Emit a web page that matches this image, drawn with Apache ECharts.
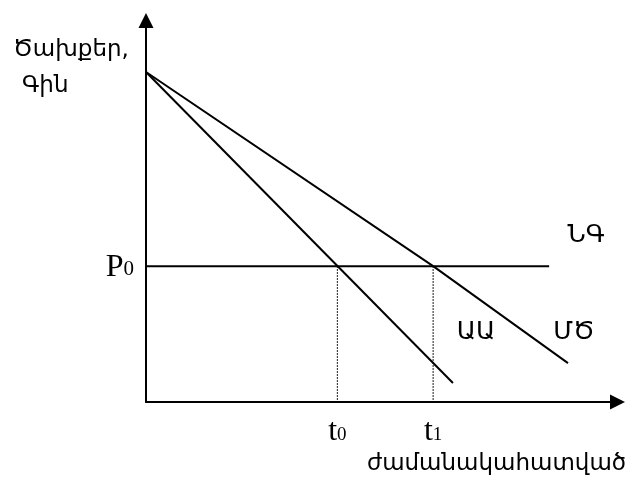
<!DOCTYPE html>
<html lang="hy">
<head>
<meta charset="UTF-8">
<title>Ծախքեր, Գին</title>
<script src="https://cdn.jsdelivr.net/npm/echarts@6/dist/echarts.min.js"></script>
<style>
html,body{margin:0;padding:0;background:#fff;}
#main{width:633px;height:477px;}
</style>
</head>
<body>
<div id="main"></div>
<script>
// values (axis units 0..100)
var t0 = 40.6;
var t1 = 60.9;
var p0 = 35.6;
var lineAA = [[0, 86.5], [65.1, 5.0]];
var lineMC = [[0, 86.5], [60.9, 35.6], [89.5, 10.2]];
var lineNG = [[0, 35.6], [85.5, 35.6]];
var drop0 = [[40.6, 35.6], [40.6, 0]];
var drop1 = [[60.9, 35.6], [60.9, 0]];
var xTickNames = ['0', '1'];
var yTickNames = ['0'];

var armFont = '"DejaVu Sans", sans-serif';
var serif = '"Liberation Serif", "Times New Roman", serif';
var richX = {
	m: {fontFamily: serif, fontSize: 32, color: '#000', verticalAlign: 'bottom', lineHeight: 34},
	s: {fontFamily: serif, fontSize: 19, color: '#000', verticalAlign: 'bottom', lineHeight: 34, padding: [0, 0, 3, 0]}
};
var richY = {
	m: {fontFamily: serif, fontSize: 32, color: '#000', verticalAlign: 'bottom', lineHeight: 34},
	s: {fontFamily: serif, fontSize: 21, color: '#000', verticalAlign: 'bottom', lineHeight: 34, padding: [0, 0, 3, 0]}
};

var chart = echarts.init(document.getElementById('main'));

function txt(s, x, y, align, size) {
	return {
		type: 'text', silent: true,
		style: {
			text: s, x: x, y: y, fill: '#000',
			font: size + 'px ' + armFont,
			textAlign: align, textVerticalAlign: 'middle',
			align: align, verticalAlign: 'middle'
		}
	};
}

function plain(data, dotted) {
	return {
		type: 'line', data: data, symbol: 'none', silent: true,
		lineStyle: {color: '#000', width: dotted ? 1.2 : 2, type: dotted ? [1.5, 1.5] : 'solid'}
	};
}

var option = {
	animation: false,
	grid: {left: 146, top: 20.5, right: 15.5, bottom: 75},
	xAxis: {
		type: 'value', min: 0, max: 100,
		splitLine: {show: false},
		axisTick: {show: false},
		axisLine: {show: true, onZero: false, symbol: ['none', 'triangle'], symbolSize: [15, 15],
			lineStyle: {color: '#000', width: 2}},
		axisLabel: {
			customValues: [t0, t1], margin: 12, rich: richX,
			formatter: function (v) { return '{m|t}{s|' + (v === t0 ? xTickNames[0] : xTickNames[1]) + '}'; }
		}
	},
	yAxis: {
		type: 'value', min: 0, max: 100,
		splitLine: {show: false},
		axisTick: {show: false},
		axisLine: {show: true, onZero: false, symbol: ['none', 'triangle'], symbolSize: [15, 15],
			lineStyle: {color: '#000', width: 2}},
		axisLabel: {
			customValues: [p0], margin: 12, rich: richY,
			formatter: function () { return '{m|P}{s|' + yTickNames[0] + '}'; }
		}
	},
	graphic: [
		txt('Ծախքեր,', 13, 50, 'left', 23),
		txt('Գին', 22, 86, 'left', 23),
		txt('ՆԳ', 586, 235, 'center', 25),
		txt('ԱԱ', 476, 332, 'center', 25),
		txt('ՄԾ', 574, 332, 'center', 25),
		txt('ժամանակահատված', 367, 464, 'left', 23)
	],
	series: [
		plain(lineAA), plain(lineMC), plain(lineNG),
		plain(drop0, true), plain(drop1, true)
	]
};
chart.setOption(option);
</script>
</body>
</html>
